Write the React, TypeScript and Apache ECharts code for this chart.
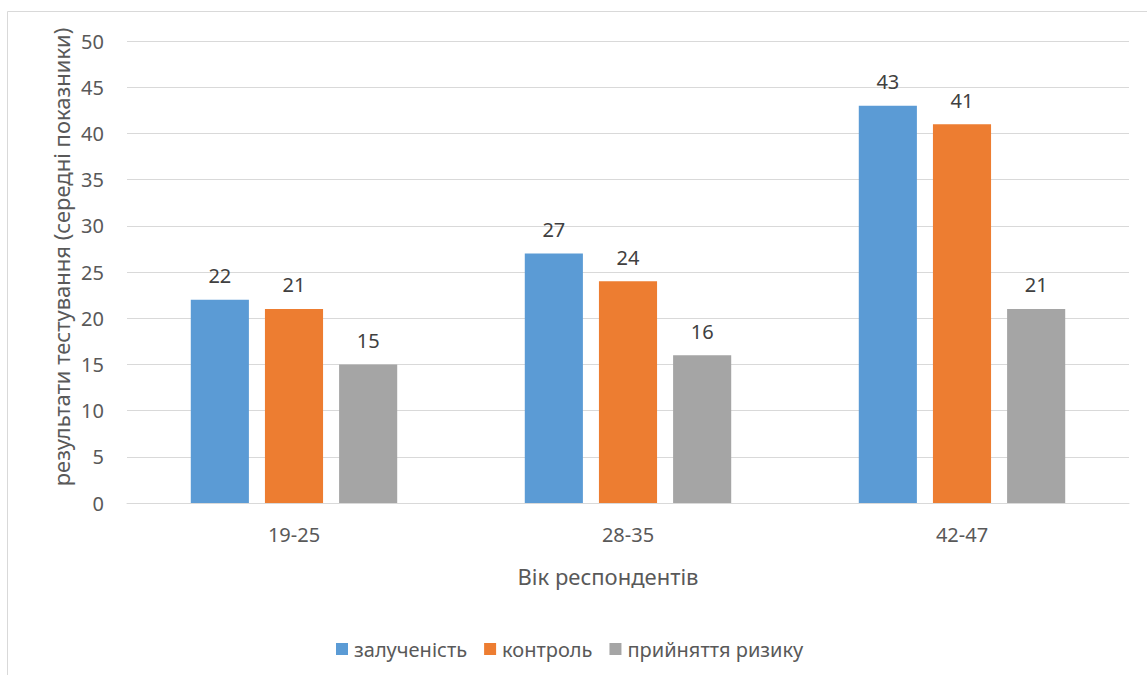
import React, { useEffect, useRef } from "react";
import * as echarts from "echarts";

const categories = ["19-25", "28-35", "42-47"];
const seriesNames = ["залученість", "контроль", "прийняття ризику"];
const engagement = [22, 27, 43];
const control = [21, 24, 41];
const riskTaking = [15, 16, 21];
const seriesColors = ["#5B9BD5", "#ED7D31", "#A5A5A5"];

const yTitle = "результати тестування (середні показники)";
const xTitle = "Вік респондентів";

const FONT = "'Noto Sans', 'Open Sans', sans-serif";

export default function App() {
  const ref = useRef<HTMLDivElement>(null);

  useEffect(() => {
    if (!ref.current) return;
    const chart = echarts.init(ref.current, undefined, { renderer: "svg" });
    const values = [engagement, control, riskTaking];

    chart.setOption({
      animation: false,
      backgroundColor: "#FFFFFF",
      textStyle: { fontFamily: FONT },
      grid: { left: 127, right: 18, top: 41, bottom: 172, containLabel: false },
      legend: {
        data: seriesNames,
        left: 331,
        top: 634,
        itemWidth: 12,
        itemHeight: 12,
        itemGap: 17,
        icon: "rect",
        textStyle: { color: "#595959", fontSize: 20, fontFamily: FONT, padding: [0, 0, 0, 1] },
      },
      xAxis: {
        type: "category",
        data: categories,
        axisLine: { show: true, lineStyle: { color: "#D9D9D9", width: 1 } },
        axisTick: { show: false },
        axisLabel: { color: "#595959", fontSize: 20, margin: 21 },
        splitLine: { show: false },
      },
      yAxis: {
        type: "value",
        min: 0,
        max: 50,
        interval: 5,
        axisLine: { show: false },
        axisTick: { show: false },
        axisLabel: { color: "#595959", fontSize: 20, margin: 23 },
        splitLine: { lineStyle: { color: "#D9D9D9", width: 1 } },
      },
      graphic: [
        {
          type: "rect",
          shape: { x: 7.5, y: 11.5, width: 1160, height: 700 },
          style: { fill: "none", stroke: "#D9D9D9", lineWidth: 1 },
          silent: true,
          z: -1,
        },
        {
          type: "text",
          x: 61,
          y: 257,
          rotation: Math.PI / 2,
          style: {
            text: yTitle,
            fill: "#595959",
            font: `22px ${FONT}`,
            textAlign: "center",
            textVerticalAlign: "middle",
          },
        },
        {
          type: "text",
          x: 608,
          y: 576,
          style: {
            text: xTitle,
            fill: "#595959",
            font: `22px ${FONT}`,
            textAlign: "center",
            textVerticalAlign: "middle",
          },
        },
      ],
      series: seriesNames.map((name, i) => ({
        name,
        type: "bar",
        data: values[i],
        barWidth: "17.4%",
        barGap: "27.6%",
        itemStyle: { color: seriesColors[i] },
        label: {
          show: true,
          position: "top",
          distance: 14,
          color: "#404040",
          fontSize: 20,
          fontFamily: FONT,
        },
      })),
    });

    return () => chart.dispose();
  }, []);

  return (
    <div
      ref={ref}
      style={{ position: "absolute", left: 0, top: 0, width: 1147, height: 675 }}
    />
  );
}
